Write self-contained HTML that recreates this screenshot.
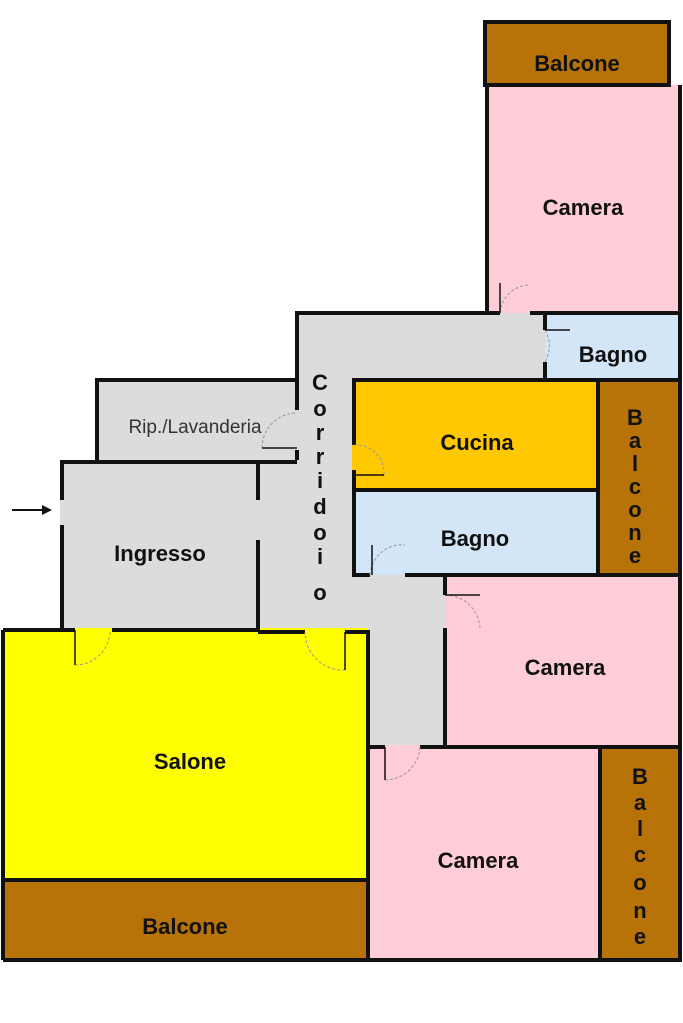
<!DOCTYPE html>
<html><head><style>body{margin:0;background:#fff}svg{display:block}text{font-family:"Liberation Sans",Arial,sans-serif;font-weight:bold;font-size:22px;fill:#111;text-anchor:middle}</style></head><body>
<svg width="683" height="1023" viewBox="0 0 683 1023" xmlns="http://www.w3.org/2000/svg">
<rect width="683" height="1023" fill="#fff"/>
<!-- grey areas -->
<polygon points="295,313 545,313 545,380 352,380 352,575 445,575 445,745 368,745 368,628 60,628 60,460 95,460 95,378 295,378" fill="#dcdcdc"/>
<!-- rooms -->
<rect x="485" y="22" width="184" height="63" fill="#b87308"/>
<rect x="485" y="85" width="197" height="228" fill="#ffcdd8"/>
<rect x="545" y="315" width="137" height="65" fill="#d2e6f8"/>
<rect x="352" y="380" width="246" height="110" fill="#ffc800"/>
<rect x="352" y="490" width="246" height="85" fill="#d2e6f8"/>
<rect x="598" y="380" width="84" height="195" fill="#b87308"/>
<rect x="445" y="575" width="237" height="170" fill="#ffcdd8"/>
<rect x="3" y="628" width="365" height="252" fill="#ffff00"/>
<rect x="3" y="880" width="365" height="80" fill="#b87308"/>
<rect x="368" y="745" width="232" height="215" fill="#ffcdd8"/>
<rect x="600" y="745" width="82" height="215" fill="#b87308"/>
<!-- walls -->
<g stroke="#111" stroke-width="4" fill="none">
<rect x="485" y="22" width="184" height="63"/>
<polyline points="487,85 487,313 500,313"/>
<line x1="530" y1="313" x2="682" y2="313"/>
<line x1="680" y1="85" x2="680" y2="380"/>
<polyline points="297,378 297,313 500,313"/>
<line x1="545" y1="313" x2="545" y2="330"/>
<line x1="545" y1="362" x2="545" y2="380"/>
<line x1="352" y1="380" x2="682" y2="380"/>
<line x1="354" y1="380" x2="354" y2="445"/>
<line x1="354" y1="470" x2="354" y2="575"/>
<line x1="352" y1="490" x2="598" y2="490"/>
<line x1="598" y1="380" x2="598" y2="575"/>
<line x1="680" y1="380" x2="680" y2="575"/>
<polyline points="352,575 370,575"/>
<line x1="405" y1="575" x2="682" y2="575"/>
<line x1="445" y1="575" x2="445" y2="595"/>
<line x1="445" y1="628" x2="445" y2="745"/>
<line x1="680" y1="575" x2="680" y2="745"/>
<polyline points="97,460 97,380 297,380 297,410"/>
<line x1="297" y1="450" x2="297" y2="460"/>
<line x1="60" y1="462" x2="297" y2="462"/>
<line x1="62" y1="460" x2="62" y2="500"/>
<line x1="62" y1="525" x2="62" y2="630"/>
<line x1="258" y1="462" x2="258" y2="500"/>
<line x1="258" y1="540" x2="258" y2="630"/>
<polyline points="3,630 75,630"/>
<line x1="112" y1="630" x2="258" y2="630"/>
<polyline points="258,632 305,632"/>
<line x1="345" y1="632" x2="368" y2="632"/>
<line x1="368" y1="630" x2="368" y2="960"/>
<line x1="3" y1="630" x2="3" y2="960"/>
<line x1="3" y1="880" x2="368" y2="880"/>
<line x1="368" y1="747" x2="385" y2="747"/>
<line x1="420" y1="747" x2="682" y2="747"/>
<line x1="600" y1="747" x2="600" y2="960"/>
<line x1="680" y1="745" x2="680" y2="960"/>
<line x1="3" y1="960" x2="682" y2="960"/>
</g>
<!-- door arcs -->
<g stroke="#999" stroke-width="1" fill="none" stroke-dasharray="3,2">
<path d="M500,313 A30,30 0 0 1 530,285"/>
<path d="M545,330 A32,32 0 0 1 545,362"/>
<path d="M262,448 A35,35 0 0 1 297,413"/>
<path d="M354,445 A28,28 0 0 1 384,475"/>
<path d="M370,575 A32,32 0 0 1 405,545"/>
<path d="M445,595 A35,35 0 0 1 480,628"/>
<path d="M75,665 A35,35 0 0 0 110,630"/>
<path d="M345,670 A38,38 0 0 1 305,632"/>
<path d="M385,780 A35,35 0 0 0 420,747"/>
</g>
<g stroke="#111" stroke-width="1.5">
<line x1="500" y1="313" x2="500" y2="283"/><line x1="545" y1="330" x2="570" y2="330"/>
<line x1="262" y1="448" x2="297" y2="448"/><line x1="354" y1="475" x2="384" y2="475"/>
<line x1="372" y1="575" x2="372" y2="545"/><line x1="445" y1="595" x2="480" y2="595"/>
<line x1="75" y1="630" x2="75" y2="665"/><line x1="345" y1="632" x2="345" y2="670"/>
<line x1="385" y1="747" x2="385" y2="780"/>
</g>
<!-- arrow -->
<line x1="12" y1="510" x2="50" y2="510" stroke="#111" stroke-width="2"/>
<polygon points="52,510 42,505 42,515" fill="#111"/>
<!-- labels -->
<text x="577" y="71">Balcone</text>
<text x="583" y="215">Camera</text>
<text x="613" y="362">Bagno</text>
<text x="477" y="450">Cucina</text>
<text x="475" y="546">Bagno</text>
<text x="565" y="675">Camera</text>
<text x="190" y="769">Salone</text>
<text x="478" y="868">Camera</text>
<text x="185" y="934">Balcone</text>
<text x="160" y="561">Ingresso</text>
<text x="195" y="433" style="font-weight:normal;font-size:19px;fill:#333">Rip./Lavanderia</text>
<g style="font-weight:normal;font-size:21px;fill:#333"><text x="635" y="425">B</text><text x="635" y="448">a</text><text x="635" y="471">l</text><text x="635" y="494">c</text><text x="635" y="517">o</text><text x="635" y="540">n</text><text x="635" y="563">e</text></g>
<g><text x="320" y="390">C</text><text x="320" y="416">o</text><text x="320" y="440">r</text><text x="320" y="464">r</text><text x="320" y="488">i</text><text x="320" y="514">d</text><text x="320" y="540">o</text><text x="320" y="564">i</text><text x="320" y="600">o</text></g>
<g><text x="640" y="784">B</text><text x="640" y="810">a</text><text x="640" y="836">l</text><text x="640" y="862">c</text><text x="640" y="890">o</text><text x="640" y="918">n</text><text x="640" y="944">e</text></g>
</svg>
</body></html>
